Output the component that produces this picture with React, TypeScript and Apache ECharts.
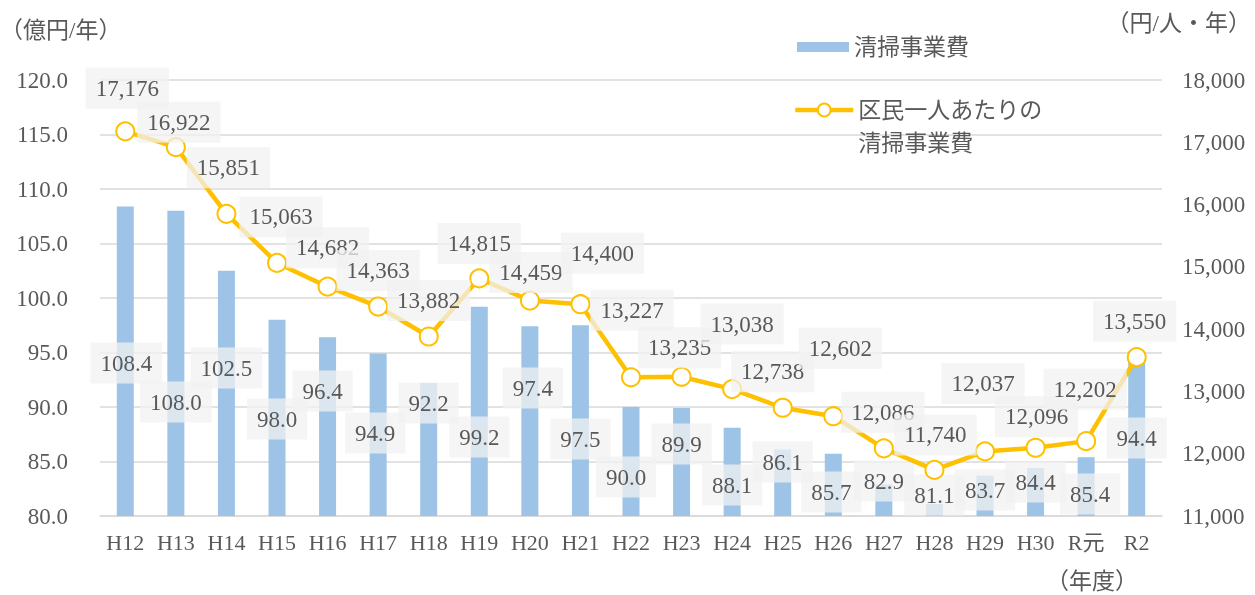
import React, { useEffect, useRef } from 'react';
import * as echarts from 'echarts';

const categories = ['H12', 'H13', 'H14', 'H15', 'H16', 'H17', 'H18', 'H19', 'H20', 'H21', 'H22', 'H23', 'H24', 'H25', 'H26', 'H27', 'H28', 'H29', 'H30', 'R元', 'R2'];
const costValues = [108.4, 108.0, 102.5, 98.0, 96.4, 94.9, 92.2, 99.2, 97.4, 97.5, 90.0, 89.9, 88.1, 86.1, 85.7, 82.9, 81.1, 83.7, 84.4, 85.4, 94.4];
const perCapitaValues = [17176, 16922, 15851, 15063, 14682, 14363, 13882, 14815, 14459, 14400, 13227, 13235, 13038, 12738, 12602, 12086, 11740, 12037, 12096, 12202, 13550];

const barSeriesName = '清掃事業費';
const lineSeriesName = '区民一人あたりの清掃事業費';
const leftAxisTitle = '（億円/年）';
const rightAxisTitle = '（円/人・年）';
const xAxisTitle = '（年度）';

const leftAxisRange = { min: 80, max: 120, interval: 5 };
const rightAxisRange = { min: 11000, max: 18000, interval: 1000 };

// label placement offsets (pixels), bar labels relative to bar base, line labels relative to point
const barLabelOffsets = [[1, -153], [0, -114], [0, -148], [0, -97], [-5, -125], [-3, -83], [0, -113], [0, -79], [3, -128], [0, -77], [-5, -39], [0, -72], [0, -31], [0, -54], [-2, -24], [0, -35], [0, -21], [0, -26], [0, -34], [4, -22], [0, -78]];
const lineLabelOffsets = [[2, -43], [3, -25], [2, -46], [4, -46], [0, -39], [0, -36], [0, -36], [0, -35], [1, -28], [22, -51], [1, -67], [-2, -29], [10, -65], [-10, -36], [7, -68], [-1, -36], [1, -35], [-2, -68], [1, -31], [-1, -52], [-2, -36]];

const FONT = "'Liberation Serif', 'Noto Sans CJK JP', serif";
const TEXT_COLOR = '#595959';

export default function App() {
  const ref = useRef<HTMLDivElement>(null);
  useEffect(() => {
    if (!ref.current) return;
    const chart = echarts.init(ref.current, null, { renderer: 'svg' });
    const labelBox = {
      backgroundColor: 'rgba(242,242,242,0.75)',
      padding: [9, 10],
      fontSize: 23,
      color: TEXT_COLOR,
      fontFamily: FONT,
    };
    chart.setOption({
      animation: false,
      textStyle: { fontFamily: FONT, color: TEXT_COLOR },
      grid: { left: 100, right: 93, top: 80, bottom: 79, containLabel: false },
      legend: [
        {
          data: [barSeriesName],
          left: 797,
          top: 34,
          padding: 0,
          icon: 'rect',
          itemWidth: 52,
          itemHeight: 10,
          textStyle: { fontSize: 23, color: TEXT_COLOR, fontFamily: FONT, lineHeight: 26 },
          selectedMode: false,
        },
        {
          data: [lineSeriesName],
          left: 793,
          top: 60.5,
          padding: 0,
          itemWidth: 58,
          itemHeight: 16,
          lineStyle: { color: '#FFC000', width: 4.5 },
          itemStyle: { color: '#FFFFFF', borderColor: '#FFC000', borderWidth: 2 },
          formatter: () => '\n区民一人あたりの\n清掃事業費',
          textStyle: { fontSize: 23, color: TEXT_COLOR, fontFamily: FONT, lineHeight: 33 },
          selectedMode: false,
        },
      ],
      xAxis: {
        type: 'category',
        data: categories,
        axisLine: { show: true, lineStyle: { color: '#D9D9D9', width: 1.5 } },
        axisTick: { show: false },
        axisLabel: { fontSize: 22, color: TEXT_COLOR, fontFamily: FONT, margin: 15 },
      },
      yAxis: [
        {
          type: 'value',
          ...leftAxisRange,
          axisLine: { show: false },
          axisTick: { show: false },
          splitLine: { show: true, lineStyle: { color: '#D9D9D9', width: 1.5 } },
          axisLabel: { fontSize: 23, color: TEXT_COLOR, fontFamily: FONT, margin: 32, formatter: (v: number) => v.toFixed(1) },
        },
        {
          type: 'value',
          ...rightAxisRange,
          position: 'right',
          axisLine: { show: false },
          axisTick: { show: false },
          splitLine: { show: false },
          axisLabel: { fontSize: 23, color: TEXT_COLOR, fontFamily: FONT, margin: 20, formatter: (v: number) => v.toLocaleString('en-US') },
        },
      ],
      graphic: [
        { type: 'text', left: 0, top: 19, style: { text: leftAxisTitle, fontSize: 23, fill: TEXT_COLOR, fontFamily: FONT } },
        { type: 'text', right: 4, top: 12, style: { text: rightAxisTitle, fontSize: 23, fill: TEXT_COLOR, fontFamily: FONT } },
        { type: 'text', left: 1046, top: 570, style: { text: xAxisTitle, fontSize: 23, fill: TEXT_COLOR, fontFamily: FONT } },
      ],
      series: [
        {
          type: 'bar',
          name: barSeriesName,
          data: costValues.map((v, i) => ({ value: v, label: { offset: barLabelOffsets[i] } })),
          barWidth: 17,
          itemStyle: { color: '#9DC3E6' },
          label: {
            show: true,
            position: ['50%', '100%'],
            align: 'center',
            verticalAlign: 'middle',
            formatter: (p: any) => Number(p.value).toFixed(1),
            ...labelBox,
          },
          emphasis: { disabled: true },
        },
        {
          type: 'line',
          name: lineSeriesName,
          yAxisIndex: 1,
          data: perCapitaValues.map((v, i) => ({ value: v, label: { offset: lineLabelOffsets[i] } })),
          symbol: 'circle',
          symbolSize: 18,
          lineStyle: { color: '#FFC000', width: 4.5 },
          itemStyle: { color: '#FFFFFF', borderColor: '#FFC000', borderWidth: 2 },
          label: {
            show: true,
            position: 'inside',
            align: 'center',
            verticalAlign: 'middle',
            formatter: (p: any) => Number(p.value).toLocaleString('en-US'),
            ...labelBox,
          },
          emphasis: { disabled: true },
        },
      ],
    });
    return () => chart.dispose();
  }, []);
  return <div ref={ref} style={{ position: 'fixed', left: 0, top: 0, width: 1255, height: 595 }} />;
}
